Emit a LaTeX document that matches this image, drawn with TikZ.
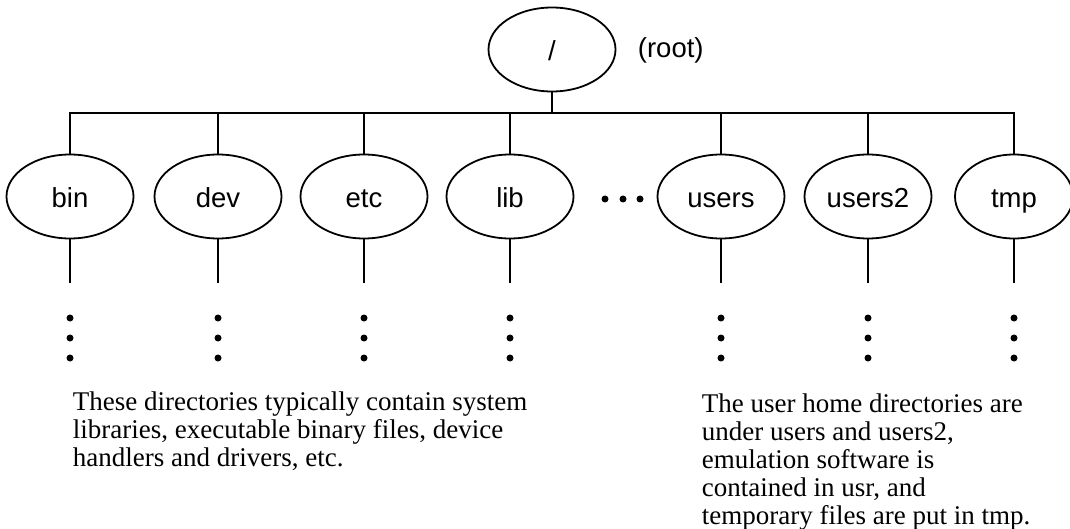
\documentclass[tikz,border=0pt]{standalone}
\usepackage{fontspec}
\setmainfont{Liberation Serif}
\setsansfont{Liberation Sans}
\usetikzlibrary{shapes.geometric}
\usetikzlibrary{positioning}
\tikzset{dirnode/.style = {draw, line width=1.8pt, ellipse, inner sep=0pt,
                           minimum width=127pt, minimum height=84pt,
                           text height=24pt, text depth=1pt,
                           font=\sffamily\fontsize{27.5}{27.5}\selectfont},
         vdot/.style = {circle, fill, inner sep=0pt, minimum size=7pt},
         note/.style = {align=left, anchor=north west, inner sep=0pt,
                        font=\fontsize{27}{28}\selectfont}}

\begin{document}
\begin{tikzpicture}[x=1pt, y=-1pt, line width=1.8pt]
      \useasboundingbox (0,0) rectangle (1070,529);
      \node [dirnode] (root) at (552,49.5) {/};
      \node [anchor=west, inner sep=0pt, font=\sffamily\fontsize{27.5}{27.5}\selectfont] (rootlabel) at (637,50) {(root)};
      \coordinate (bar) at (552,113);
      \foreach \name/\x in {bin/70, dev/218, etc/364, lib/510, users/721, users2/868} {
        \node [dirnode] (\name) at (\x,196.5) {\name};
        \draw (root.south) -- (bar) -| (\name.north);
        \draw (\name.south) -- ++(0,44);
        \foreach \k in {0,1,2}
          \node [vdot] (\name dot\k) at (\x,318+20*\k) {};
      }
      \node [dirnode, minimum width=118pt] (tmp) at (1014,196.5) {tmp};
      \draw (root.south) -- (bar) -| (tmp.north);
      \draw (tmp.south) -- ++(0,44);
      \foreach \k in {0,1,2}
        \node [vdot] (tmp dot\k) at (1014,318+20*\k) {};
      \foreach \k/\x in {0/605, 1/623, 2/640}
        \node [vdot] (gap\k) at (\x,199) {};
      \node [note] (leftnote) at (72,390.5) {These directories typically contain system\\libraries, executable binary files, device\\handlers and drivers, etc.};
      \node [note] (rightnote) at (701,392.5) {The user home directories are\\under users and users2,\\emulation software is\\contained in usr, and\\temporary files are put in tmp.};
    \end{tikzpicture}
\end{document}
